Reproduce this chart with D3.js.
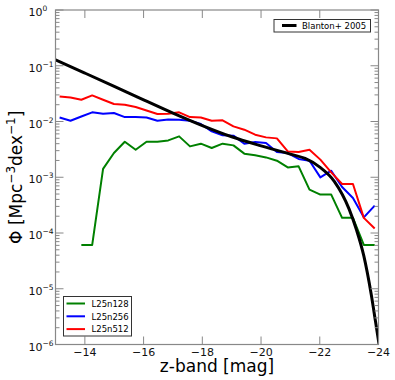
<!DOCTYPE html>
<html>
<head>
<meta charset="utf-8">
<script src="https://cdn.jsdelivr.net/npm/d3@7"></script>
<style>
  body { margin: 0; background: #fff; }
  svg { font-family: "DejaVu Sans", sans-serif; }
</style>
</head>
<body>
<script>
// magnitude bins shared by the simulation curves
var mags = [-13.14, -13.51, -13.88, -14.25, -14.62, -14.99, -15.36, -15.73, -16.10, -16.47,
            -16.84, -17.21, -17.58, -17.95, -18.32, -18.69, -19.06, -19.43, -19.80, -20.17,
            -20.54, -20.91, -21.28, -21.65, -22.02, -22.39, -22.76, -23.13, -23.50, -23.87];

var phiL25n128 = [null, null, 6.1e-5, 6.1e-5, 1.41e-3, 2.72e-3, 4.34e-3, 3.12e-3, 4.34e-3, 4.34e-3,
                  4.58e-3, 5.41e-3, 3.58e-3, 4.0e-3, 3.35e-3, 4.0e-3, 3.73e-3, 2.65e-3, 2.47e-3, 2.27e-3,
                  1.98e-3, 1.50e-3, 1.57e-3, 6.0e-4, 4.88e-4, 4.88e-4, 1.87e-4, 1.87e-4, 6.1e-5, 6.1e-5];

var phiL25n256 = [0.0118, 0.0103, 0.0123, 0.0146, 0.0138, 0.0142, 0.0120, 0.0120, 0.0118, 0.0103,
                  0.0109, 0.0108, 0.0103, 9.02e-3, 6.65e-3, 5.64e-3, 5.57e-3, 4.0e-3, 4.29e-3, 4.12e-3,
                  2.84e-3, 2.72e-3, 2.13e-3, 1.98e-3, 9.96e-4, 1.31e-3, 6.7e-4, 4.25e-4, 1.91e-4, 3.1e-4];

var phiL25n512 = [0.0282, 0.0270, 0.0246, 0.0294, 0.0246, 0.0206, 0.0200, 0.0182, 0.0158, 0.0136,
                  0.0138, 0.0146, 0.0120, 0.0118, 0.0103, 0.0105, 8.17e-3, 7.13e-3, 5.8e-3, 5.19e-3,
                  4.98e-3, 2.91e-3, 2.84e-3, 3.12e-3, 2.07e-3, 1.22e-3, 7.58e-4, 7.58e-4, 1.87e-4, 1.20e-4];

var blantonMag = [-13, -14, -15, -16, -17, -18, -19, -20, -21, -21.5, -22, -22.5, -23, -23.25, -23.5, -23.75, -23.9, -24.02];
var blantonPhi = [0.128, 0.0739, 0.0426, 0.0245, 0.01415, 8.45e-3, 5.32e-3, 3.66e-3, 2.60e-3, 2.17e-3,
                  1.52e-3, 8.37e-4, 2.68e-4, 1.14e-4, 3.88e-5, 8.05e-6, 2.55e-6, 1e-6];

var xTicks = [-14, -16, -18, -20, -22, -24];
var yTicks = [1e-6, 1e-5, 1e-4, 1e-3, 1e-2, 1e-1, 1];
var yTickExp = ["-6", "-5", "-4", "-3", "-2", "-1", "0"];

var simNames = ["L25n128", "L25n256", "L25n512"];
var simColors = ["#008000", "#0000ff", "#ff0000"];
var simSeries = [phiL25n128, phiL25n256, phiL25n512];

var W = 395, H = 380;
var pLeft = 55.5, pRight = 378.5, pTop = 10, pBottom = 344.5;
var axisColor = "#888";

var svg = d3.select("body").append("svg")
    .attr("width", W)
    .attr("height", H);

var x = d3.scaleLinear().domain([-13, -24]).range([pLeft, pRight]);
var y = d3.scaleLog().domain([1e-6, 1]).range([pBottom, pTop]);

svg.append("clipPath").attr("id", "plot")
  .append("rect")
    .attr("x", pLeft).attr("y", pTop)
    .attr("width", pRight - pLeft).attr("height", pBottom - pTop);

var plot = svg.append("g").attr("clip-path", "url(#plot)");

// simulation curves
var line = d3.line()
    .defined(function(d) { return d.v != null; })
    .x(function(d) { return x(d.m); })
    .y(function(d) { return y(d.v); });

simSeries.forEach(function(vals, i) {
  var pts = mags.map(function(m, j) { return { m: m, v: vals[j] }; });
  plot.append("path")
    .datum(pts)
    .attr("d", line)
    .attr("fill", "none")
    .attr("stroke", simColors[i])
    .attr("stroke-width", 2)
    .attr("stroke-linejoin", "round");
});

// Blanton+ 2005
var bl = blantonMag.map(function(m, j) { return { m: m, v: blantonPhi[j] }; });
plot.append("path")
  .datum(bl)
  .attr("d", line.curve(d3.curveMonotoneX))
  .attr("fill", "none")
  .attr("stroke", "#000")
  .attr("stroke-width", 3);

// frame
svg.append("rect")
    .attr("x", pLeft).attr("y", pTop)
    .attr("width", pRight - pLeft).attr("height", pBottom - pTop)
    .attr("fill", "none")
    .attr("stroke", axisColor)
    .attr("stroke-width", 1.2);

// x ticks, inward on bottom and top
var ax = svg.append("g").attr("stroke", axisColor).attr("stroke-width", 1);
xTicks.forEach(function(t) {
  ax.append("line").attr("x1", x(t)).attr("x2", x(t)).attr("y1", pBottom).attr("y2", pBottom - 8);
  ax.append("line").attr("x1", x(t)).attr("x2", x(t)).attr("y1", pTop).attr("y2", pTop + 8);
});

svg.selectAll(".xlab")
  .data(xTicks)
  .enter()
  .append("text")
    .attr("class", "xlab")
    .attr("x", function(d) { return x(d); })
    .attr("y", 355.5)
    .attr("text-anchor", "middle")
    .attr("font-size", "11px")
    .attr("fill", "#111")
    .text(function(d) { return "\u2212" + Math.abs(d); });

// y ticks, major and minor on both sides
yTicks.forEach(function(t, i) {
  var yy = y(t);
  ax.append("line").attr("x1", pLeft).attr("x2", pLeft + 8).attr("y1", yy).attr("y2", yy);
  ax.append("line").attr("x1", pRight).attr("x2", pRight - 8).attr("y1", yy).attr("y2", yy);
  if (t < 1) {
    for (var k = 2; k <= 9; k++) {
      var ym = y(t * k);
      ax.append("line").attr("x1", pLeft).attr("x2", pLeft + 4).attr("y1", ym).attr("y2", ym);
      ax.append("line").attr("x1", pRight).attr("x2", pRight - 4).attr("y1", ym).attr("y2", ym);
    }
  }
  var lab = svg.append("text")
      .attr("x", 28.5)
      .attr("y", yy + 6)
      .attr("font-size", "11px")
      .attr("fill", "#111");
  lab.append("tspan").text("10");
  lab.append("tspan")
      .attr("dy", -5)
      .attr("font-size", "7.5px")
      .text(yTickExp[i].replace("-", "\u2212"));
});

// axis titles
svg.append("text")
    .attr("x", (pLeft + pRight) / 2)
    .attr("y", 372)
    .attr("text-anchor", "middle")
    .attr("font-size", "17px")
    .attr("fill", "#000")
    .text("z-band [mag]");

var yl = svg.append("text")
    .attr("transform", "translate(21.5," + ((pTop + pBottom) / 2) + ") rotate(-90)")
    .attr("text-anchor", "middle")
    .attr("font-size", "17px")
    .attr("fill", "#000");
yl.append("tspan").text("\u03A6 [Mpc");
yl.append("tspan").attr("dy", -7).attr("font-size", "12px").text("\u22123");
yl.append("tspan").attr("dy", 7).text("dex");
yl.append("tspan").attr("dy", -7).attr("font-size", "12px").text("\u22121");
yl.append("tspan").attr("dy", 7).text("]");

// legend for Blanton
var lg1 = svg.append("g");
lg1.append("rect")
    .attr("x", 274).attr("y", 19.5).attr("width", 96.5).attr("height", 12.5)
    .attr("fill", "#fff").attr("stroke", "#333").attr("stroke-width", 1);
lg1.append("line")
    .attr("x1", 282).attr("x2", 296.5).attr("y1", 25.5).attr("y2", 25.5)
    .attr("stroke", "#000").attr("stroke-width", 3);
lg1.append("text")
    .attr("x", 302).attr("y", 28.8)
    .attr("font-size", "8.5px")
    .text("Blanton+ 2005");

// legend for simulations
var lg2 = svg.append("g");
lg2.append("rect")
    .attr("x", 63.5).attr("y", 296.5).attr("width", 68).attr("height", 39.5)
    .attr("fill", "#fff").attr("stroke", "#333").attr("stroke-width", 1);
lg2.selectAll("line")
  .data(simNames)
  .enter()
  .append("line")
    .attr("x1", 66.5).attr("x2", 85)
    .attr("y1", function(d, i) { return 303.5 + i * 12.8; })
    .attr("y2", function(d, i) { return 303.5 + i * 12.8; })
    .attr("stroke", function(d, i) { return simColors[i]; })
    .attr("stroke-width", 2);
lg2.selectAll("text")
  .data(simNames)
  .enter()
  .append("text")
    .attr("x", 91.5)
    .attr("y", function(d, i) { return 306.8 + i * 12.8; })
    .attr("font-size", "8.5px")
    .text(function(d) { return d; });
</script>
</body>
</html>
